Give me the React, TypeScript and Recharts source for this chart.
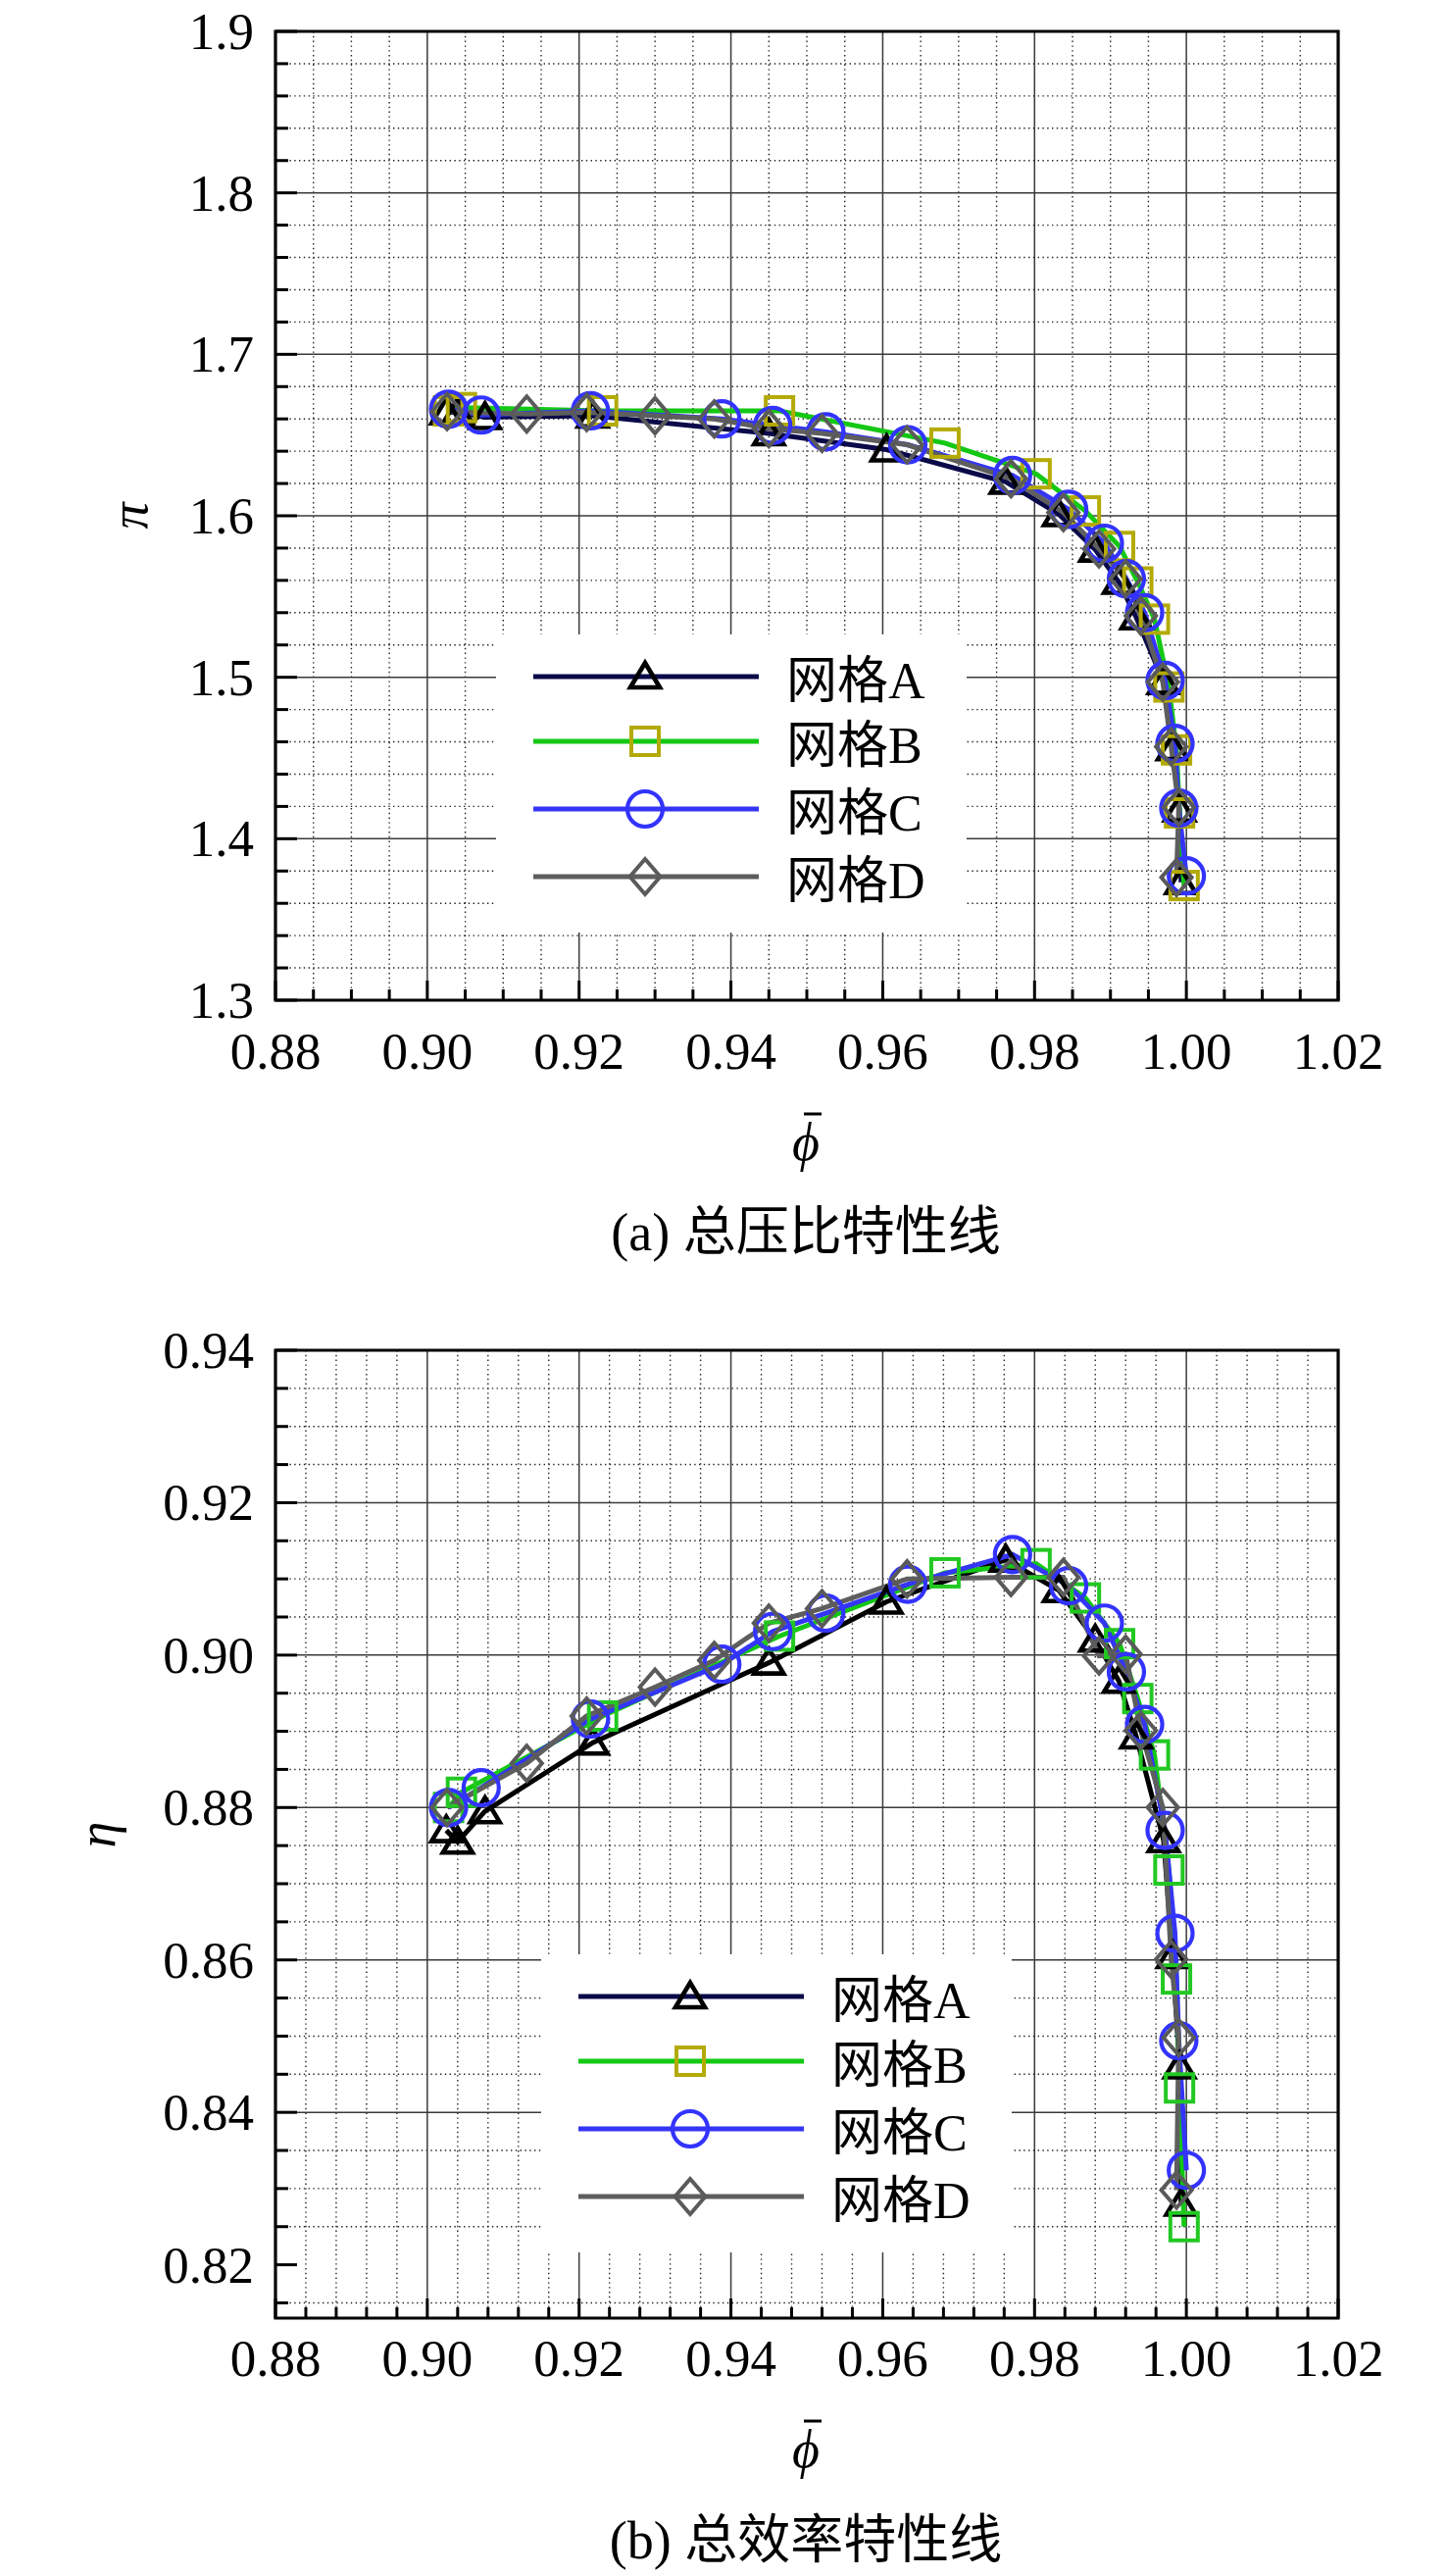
import React from "react";
import { LineChart, Line, XAxis, YAxis, CartesianGrid, ReferenceArea } from "recharts";

// mass flow (phi bar) per grid, shared by both panels
const phiA = [0.9025, 0.904, 0.9076, 0.9218, 0.945, 0.9605, 0.9762, 0.9832, 0.988, 0.9911, 0.9934, 0.997, 0.9982, 0.9991, 0.9993];
const phiB = [0.9028, 0.9045, 0.9231, 0.9464, 0.9682, 0.9802, 0.9867, 0.9912, 0.9936, 0.9958, 0.9977, 0.9987, 0.9991, 0.9997];
const phiC = [0.9028, 0.9071, 0.9215, 0.9388, 0.9455, 0.9525, 0.9633, 0.9771, 0.9845, 0.9892, 0.9921, 0.9945, 0.9972, 0.9985, 0.999, 1.0];
const phiD = [0.9026, 0.9131, 0.921, 0.93, 0.9378, 0.945, 0.952, 0.9632, 0.9769, 0.9838, 0.9885, 0.992, 0.994, 0.9969, 0.998, 0.999, 0.9987];

// total pressure ratio
const piA = [1.664, 1.664, 1.661, 1.662, 1.651, 1.641, 1.621, 1.601, 1.579, 1.559, 1.537, 1.497, 1.456, 1.418, 1.373];
const piB = [1.665, 1.667, 1.665, 1.665, 1.645, 1.626, 1.603, 1.581, 1.559, 1.536, 1.494, 1.455, 1.416, 1.371];
const piC = [1.666, 1.6624, 1.665, 1.66, 1.656, 1.652, 1.644, 1.625, 1.604, 1.583, 1.561, 1.54, 1.498, 1.459, 1.419, 1.377];
const piD = [1.6645, 1.663, 1.664, 1.662, 1.66, 1.654, 1.651, 1.644, 1.623, 1.602, 1.5795, 1.561, 1.538, 1.497, 1.457, 1.4195, 1.376];

// total efficiency
const etaA = [0.877, 0.8755, 0.8795, 0.8885, 0.899, 0.907, 0.9125, 0.9085, 0.902, 0.8966, 0.8893, 0.8757, 0.8605, 0.846, 0.828];
const etaB = [0.88, 0.882, 0.892, 0.9025, 0.9108, 0.912, 0.9075, 0.9015, 0.8943, 0.8869, 0.8718, 0.8575, 0.8432, 0.825];
const etaC = [0.88, 0.8826, 0.8916, 0.8988, 0.9031, 0.9055, 0.9093, 0.9132, 0.9091, 0.9042, 0.8978, 0.8909, 0.877, 0.8635, 0.8494, 0.8324];
const etaD = [0.88, 0.8858, 0.892, 0.8958, 0.8993, 0.9042, 0.9061, 0.91, 0.9102, 0.9102, 0.8999, 0.9001, 0.8901, 0.88, 0.8601, 0.8498, 0.8298];

const names = ["网格A", "网格B", "网格C", "网格D"];
const shapes = ["triangle", "square", "circle", "diamond"];

const xMajor = [0.88, 0.9, 0.92, 0.94, 0.96, 0.98, 1.0, 1.02];
const piMajor = [1.3, 1.4, 1.5, 1.6, 1.7, 1.8, 1.9];
const etaMajor = [0.82, 0.84, 0.86, 0.88, 0.9, 0.92, 0.94];

const SERIF = "Liberation Serif, DejaVu Serif, serif";
const SERIF_CJK = "Liberation Serif, Noto Sans CJK SC, serif";

const steps = (a: number, b: number, s: number) => {
  const out: number[] = [];
  for (let i = 0; a + i * s <= b + 1e-9; i++) out.push(+(a + i * s).toFixed(4));
  return out;
};
const isIn = (list: number[], v: number) => list.some((m) => Math.abs(m - v) < 1e-6);
const inner = (list: number[]) => list.slice(1, -1);

function Marker({ shape, cx, cy, color }: { shape: string; cx: number; cy: number; color: string }) {
  if (shape === "triangle")
    return <path d={`M${cx},${cy - 14} L${cx + 15},${cy + 11} L${cx - 15},${cy + 11} Z`} fill="none" stroke={color} strokeWidth={4.6} strokeLinejoin="miter" />;
  if (shape === "square")
    return <rect x={cx - 14} y={cy - 14} width={28} height={28} fill="none" stroke={color} strokeWidth={4} />;
  if (shape === "circle")
    return <circle cx={cx} cy={cy} r={18} fill="none" stroke={color} strokeWidth={4.2} />;
  return <path d={`M${cx},${cy - 18} L${cx + 15.5},${cy} L${cx},${cy + 18} L${cx - 15.5},${cy} Z`} fill="none" stroke={color} strokeWidth={4} />;
}

type Style = { line: string; mark: string };

function makeXTick(labelDy: number) {
  return (props: any) => {
    const { x, y, payload } = props;
    const v = payload.value;
    const major = isIn(xMajor, v);
    return (
      <g>
        <line x1={x} x2={x} y1={y} y2={y - (major ? 20 : 11)} stroke="#000" strokeWidth={3} />
        {major && (
          <text x={x} y={y + labelDy} textAnchor="middle" dominantBaseline="central" style={{ fontFamily: SERIF, fontSize: 53 }} fill="#000">
            {v.toFixed(2)}
          </text>
        )}
      </g>
    );
  };
}

function makeYTick(majors: number[], digits: number) {
  return (props: any) => {
    const { x, y, payload } = props;
    const v = payload.value;
    const major = isIn(majors, v);
    return (
      <g>
        <line x1={x} x2={x + (major ? 22 : 13)} y1={y} y2={y} stroke="#000" strokeWidth={3} />
        {major && (
          <text x={x - 22} y={y} textAnchor="end" dominantBaseline="central" style={{ fontFamily: SERIF, fontSize: 53 }} fill="#000">
            {v.toFixed(digits)}
          </text>
        )}
      </g>
    );
  };
}

function LegendBox({ left, top, styles }: { left: number; top: number; styles: Style[] }) {
  const rows = [43, 109, 178, 247];
  return (
    <svg style={{ position: "absolute", left, top }} width={480} height={304}>
      <rect x={0} y={0} width={480} height={304} fill="#fff" />
      {names.map((n, i) => (
        <g key={n}>
          <line x1={38} x2={268} y1={rows[i]} y2={rows[i]} stroke={styles[i].line} strokeWidth={5} />
          <Marker shape={shapes[i]} cx={152} cy={rows[i]} color={styles[i].mark} />
          <text x={296} y={rows[i] + 4} dominantBaseline="central" style={{ fontFamily: SERIF_CJK, fontSize: 52 }} fill="#000">
            {n}
          </text>
        </g>
      ))}
    </svg>
  );
}

interface PanelProps {
  top: number;
  height: number;
  plotTop: number;
  plotBottom: number;
  yDomain: [number, number];
  yMajor: number[];
  yMinor: number[];
  xMinor: number[];
  digits: number;
  ys: number[][];
  styles: Style[];
  legendStyles: Style[];
  xLabelDy: number;
  yLabel: string;
  yLabelX: number;
  phiY: number;
  caption: string;
  captionY: number;
  legendLeft: number;
  legendTop: number;
}

function Panel(p: PanelProps) {
  const phis = [phiA, phiB, phiC, phiD];
  const series = phis.map((xs, i) => xs.map((x, j) => ({ x, y: p.ys[i][j] })));
  const xTicks = [...xMajor, ...p.xMinor].sort((a, b) => a - b);
  const yTicks = [...p.yMajor, ...p.yMinor].sort((a, b) => a - b);
  const mid = (p.plotTop + p.plotBottom) / 2;
  return (
    <div style={{ position: "absolute", left: 0, top: p.top, width: 1476, height: p.height }}>
      <LineChart width={1476} height={p.height} margin={{ top: p.plotTop, right: 111, bottom: 0, left: 0 }}>
        <CartesianGrid verticalValues={p.xMinor} horizontalValues={p.yMinor} stroke="#222" strokeWidth={1.4} strokeDasharray="1.4 3.4" />
        <CartesianGrid verticalValues={inner(xMajor)} horizontalValues={inner(p.yMajor)} stroke="#3a3a3a" strokeWidth={1.5} />
        <XAxis
          type="number"
          dataKey="x"
          domain={[0.88, 1.02]}
          allowDataOverflow
          ticks={xTicks}
          interval={0}
          height={p.height - p.plotBottom}
          tickSize={0}
          tickMargin={0}
          tickLine={false}
          axisLine={false}
          tick={makeXTick(p.xLabelDy)}
        />
        <YAxis
          type="number"
          domain={p.yDomain}
          allowDataOverflow
          ticks={yTicks}
          interval={0}
          width={281}
          tickSize={0}
          tickMargin={0}
          tickLine={false}
          axisLine={false}
          tick={makeYTick(p.yMajor, p.digits)}
        />
        {series.map((d, i) => (
          <Line
            key={names[i]}
            data={d}
            dataKey="y"
            type="linear"
            stroke={p.styles[i].line}
            strokeWidth={5}
            isAnimationActive={false}
            dot={(dp: any) => <Marker key={`${i}-${dp.index}`} shape={shapes[i]} cx={dp.cx} cy={dp.cy} color={p.styles[i].mark} />}
            activeDot={false}
          />
        ))}
        <ReferenceArea x1={0.88} x2={1.02} y1={p.yDomain[0]} y2={p.yDomain[1]} fill="none" fillOpacity={0} stroke="#000" strokeWidth={3.2} ifOverflow="visible" />
      </LineChart>
      <LegendBox left={p.legendLeft} top={p.legendTop} styles={p.legendStyles} />
      <div
        style={{
          position: "absolute",
          left: p.yLabelX,
          top: mid,
          transform: "translate(-50%, -50%) rotate(-90deg)",
          fontFamily: SERIF,
          fontStyle: "italic",
          fontSize: 54,
          lineHeight: 1,
        }}
      >
        {p.yLabel}
      </div>
      <div style={{ position: "absolute", left: 823, top: p.phiY, transform: "translate(-50%, -50%)", fontFamily: SERIF, fontStyle: "italic", fontSize: 54, lineHeight: 1 }}>
        <div style={{ width: 18, height: 3, background: "#000", marginLeft: 12 }} />
        ϕ
      </div>
      <div
        style={{
          position: "absolute",
          left: 822,
          top: p.captionY,
          transform: "translate(-50%, -50%)",
          fontFamily: SERIF_CJK,
          fontSize: 54,
          lineHeight: 1,
          whiteSpace: "nowrap",
        }}
      >
        {p.caption}
      </div>
    </div>
  );
}

const topStyles: Style[] = [
  { line: "#0a0a4a", mark: "#000000" },
  { line: "#14c814", mark: "#b3aa05" },
  { line: "#3535f5", mark: "#3333ff" },
  { line: "#5e5e5e", mark: "#5a5a5a" },
];
const bottomStyles: Style[] = [
  { line: "#000000", mark: "#000000" },
  { line: "#14c814", mark: "#22c822" },
  { line: "#3535f5", mark: "#3333ff" },
  { line: "#5e5e5e", mark: "#5a5a5a" },
];

export default function App() {
  return (
    <div style={{ position: "absolute", left: 0, top: 0, width: 1476, height: 2627, background: "#fff" }}>
      <Panel
        top={0}
        height={1300}
        plotTop={32}
        plotBottom={1020}
        yDomain={[1.3, 1.9]}
        yMajor={piMajor}
        yMinor={steps(1.3, 1.9, 0.02).filter((v) => !isIn(piMajor, v))}
        xMinor={steps(0.88, 1.02, 0.005).filter((v) => !isIn(xMajor, v))}
        digits={1}
        ys={[piA, piB, piC, piD]}
        styles={topStyles}
        legendStyles={topStyles}
        xLabelDy={52}
        yLabel="π"
        yLabelX={132}
        phiY={1163}
        caption="(a) 总压比特性线"
        captionY={1257}
        legendLeft={506}
        legendTop={647}
      />
      <Panel
        top={1300}
        height={1327}
        plotTop={77}
        plotBottom={1064}
        yDomain={[0.813, 0.94]}
        yMajor={etaMajor}
        yMinor={steps(0.815, 0.94, 0.005).filter((v) => !isIn(etaMajor, v))}
        xMinor={steps(0.88, 1.02, 0.004).filter((v) => !isIn(xMajor, v))}
        digits={2}
        ys={[etaA, etaB, etaC, etaD]}
        styles={bottomStyles}
        legendStyles={topStyles}
        xLabelDy={41}
        yLabel="η"
        yLabelX={99}
        phiY={1196}
        caption="(b) 总效率特性线"
        captionY={1291}
        legendLeft={552}
        legendTop={693}
      />
    </div>
  );
}
